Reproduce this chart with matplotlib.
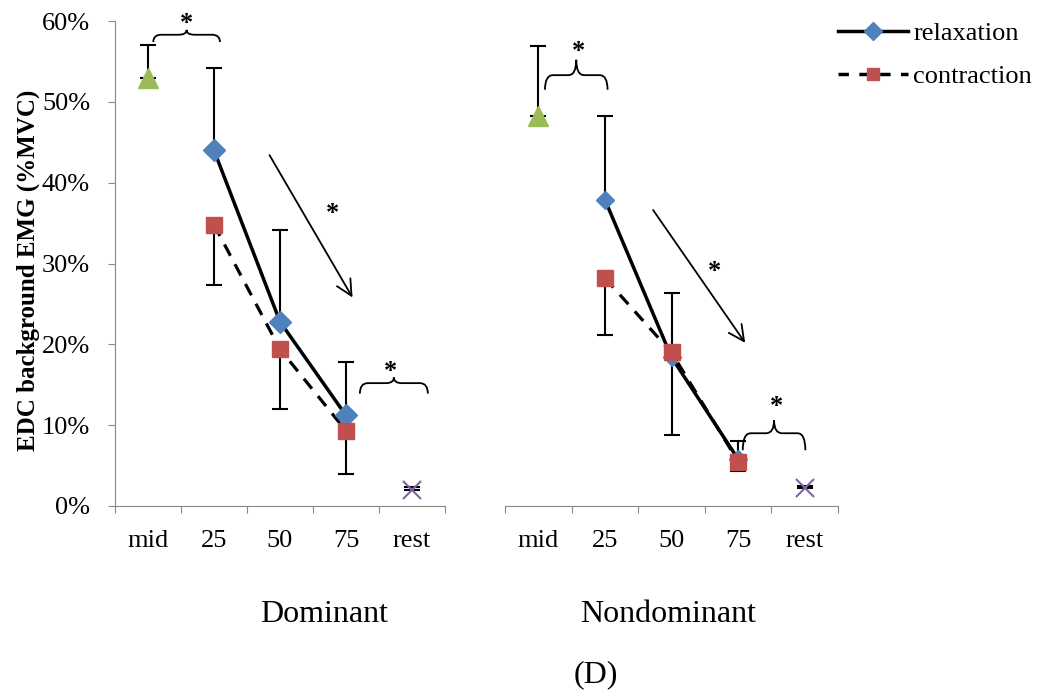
import matplotlib
matplotlib.use("Agg")
import matplotlib.pyplot as plt
from matplotlib.path import Path
from matplotlib.patches import PathPatch
from matplotlib.lines import Line2D
from matplotlib.ticker import FuncFormatter

plt.rcParams['font.family'] = ['Liberation Serif', 'DejaVu Serif']

categories = ['mid', '25', '50', '75', 'rest']
pos = [0, 1, 2, 3, 4]

# Dominant side (% MVC)
dom_mid, dom_mid_up = 53.0, 4.0
dom_rel = [44.0, 22.8, 11.2]
dom_rel_up = [10.2, 11.4, 6.6]
dom_con = [34.8, 19.4, 9.3]
dom_con_dn = [7.5, 7.4, 5.3]
dom_rest, dom_rest_up = 2.0, 0.3

# Nondominant side
nd_mid, nd_mid_up = 48.3, 8.6
nd_rel = [37.9, 18.4, 5.8]
nd_rel_up = [10.3, 8.0, 2.2]
nd_con = [28.2, 19.0, 5.5]
nd_con_dn = [7.1, 10.2, 1.2]
nd_rest, nd_rest_up = 2.2, 0.3

BLUE = '#4F81BD'
RED = '#C0504D'
GREEN = '#9BBB59'
PURPLE = '#8064A2'
GREY = '#888888'


def brace(ax, x0, x1, yb, yh, yt, r=0.12):
    xm = (x0 + x1) / 2
    verts = [(x0, yb), (x0, yh), (x0 + r, yh),
             (xm - r, yh), (xm, yh), (xm, yt),
             (xm, yh), (xm + r, yh),
             (x1 - r, yh), (x1, yh), (x1, yb)]
    codes = [Path.MOVETO, Path.CURVE3, Path.CURVE3,
             Path.LINETO, Path.CURVE3, Path.CURVE3,
             Path.CURVE3, Path.CURVE3,
             Path.LINETO, Path.CURVE3, Path.CURVE3]
    ax.add_patch(PathPatch(Path(verts, codes), fill=False, lw=1.3,
                           color='black', clip_on=False))


def star(ax, x, y):
    # y is where the centre of the asterisk should sit
    ax.text(x, y - 1.6, '*', fontsize=19, fontweight='bold',
            ha='center', va='baseline', clip_on=False)


def panel(ax, mid, mid_up, rel, rel_up, con, con_dn, rest, rest_up, dsize):
    x3 = pos[1:4]
    eb = dict(fmt='none', ecolor='black', elinewidth=1.5, capsize=6, capthick=1.5)
    ax.errorbar([pos[0]], [mid], yerr=[[0], [mid_up]], **eb)
    ax.errorbar(x3, rel, yerr=[[0] * 3, rel_up], **eb)
    ax.errorbar(x3, con, yerr=[con_dn, [0] * 3], **eb)
    ax.errorbar([pos[4]], [rest], yerr=[[0], [rest_up]], **eb)
    ax.plot(x3, con, color='black', lw=2.3, ls=(0, (4, 3)), zorder=3)
    ax.plot(x3, rel, color='black', lw=2.5, zorder=4)
    ax.plot(x3, rel, ls='none', marker='D', ms=dsize, color=BLUE, mec=BLUE, zorder=5)
    ax.plot(x3, con, ls='none', marker='s', ms=11, color=RED, mec=RED, zorder=6)
    ax.plot([pos[0]], [mid], ls='none', marker='^', ms=14, color=GREEN, zorder=5)
    ax.plot([pos[4]], [rest], ls='none', marker='x', ms=13, mew=1.5,
            color=PURPLE, zorder=5)

    ax.set_xlim(-0.5, 4.5)
    ax.set_ylim(0, 60)
    ax.set_xticks([p - 0.5 for p in pos] + [4.5])
    ax.set_xticklabels([])
    ax.set_xticks(pos, minor=True)
    ax.set_xticklabels(categories, minor=True, fontsize=19)
    ax.tick_params(axis='x', which='major', length=5, color=GREY, direction='out')
    ax.tick_params(axis='x', which='minor', length=0, pad=17)
    for s in ['top', 'right']:
        ax.spines[s].set_visible(False)
    ax.spines['bottom'].set_color(GREY)
    ax.spines['left'].set_color(GREY)


fig = plt.figure(figsize=(10.37, 6.94), dpi=100)
ax1 = fig.add_axes([115 / 1037, 188 / 694, 330 / 1037, 485 / 694])
ax2 = fig.add_axes([505 / 1037, 188 / 694, 333 / 1037, 485 / 694])

panel(ax1, dom_mid, dom_mid_up, dom_rel, dom_rel_up, dom_con, dom_con_dn,
      dom_rest, dom_rest_up, 11)
panel(ax2, nd_mid, nd_mid_up, nd_rel, nd_rel_up, nd_con, nd_con_dn,
      nd_rest, nd_rest_up, 9)

ax1.set_yticks(range(0, 61, 10))
ax1.yaxis.set_major_formatter(FuncFormatter(lambda v, p: '%d%%' % v))
ax1.tick_params(axis='y', length=5, color=GREY, labelsize=19, pad=13)
ax1.set_ylabel('EDC background EMG (%MVC)', fontsize=18, fontweight='bold',
               va='center')
ax1.yaxis.set_label_coords(-0.262, 0.485)
ax2.spines['left'].set_visible(False)
ax2.set_yticks([])

# significance marks, dominant
brace(ax1, 0.08, 1.09, 57.4, 58.3, 58.9)
star(ax1, 0.58, 60.5)
ax1.annotate('', xy=(3.12, 25.5), xytext=(1.82, 43.7),
             arrowprops=dict(arrowstyle='->', lw=1.3, mutation_scale=28))
star(ax1, 2.8, 37.0)
brace(ax1, 3.21, 4.24, 13.9, 15.2, 15.9)
star(ax1, 3.68, 17.4)

# significance marks, nondominant
brace(ax2, 0.1, 1.04, 51.5, 53.3, 55.2)
star(ax2, 0.61, 57.0)
ax2.annotate('', xy=(3.13, 19.9), xytext=(1.70, 36.9),
             arrowprops=dict(arrowstyle='->', lw=1.3, mutation_scale=28))
star(ax2, 2.65, 29.8)
brace(ax2, 3.07, 4.01, 6.9, 9.0, 10.6)
star(ax2, 3.58, 13.1)

fig.text(324 / 1037, 1 - 614 / 694, 'Dominant', fontsize=23, ha='center', va='center')
fig.text(668 / 1037, 1 - 614 / 694, 'Nondominant', fontsize=23, ha='center', va='center')
fig.text(596 / 1037, 1 - 675 / 694, '(D)', fontsize=23, ha='center', va='center')

handles = [Line2D([], [], color='black', lw=2.5, marker='D', ms=9,
                  mfc=BLUE, mec=BLUE),
           Line2D([], [], color='black', lw=2.5, ls=(0, (3, 3)), marker='s',
                  ms=9, mfc=RED, mec=RED)]
fig.legend(handles, ['relaxation', 'contraction'], loc='upper left',
           bbox_to_anchor=(838 / 1037, 1 - 22 / 694), frameon=False,
           fontsize=19, handlelength=2.65, handletextpad=0.2, labelspacing=0.73,
           borderpad=0, borderaxespad=0, numpoints=1)

fig.savefig('out.png', dpi=100)
